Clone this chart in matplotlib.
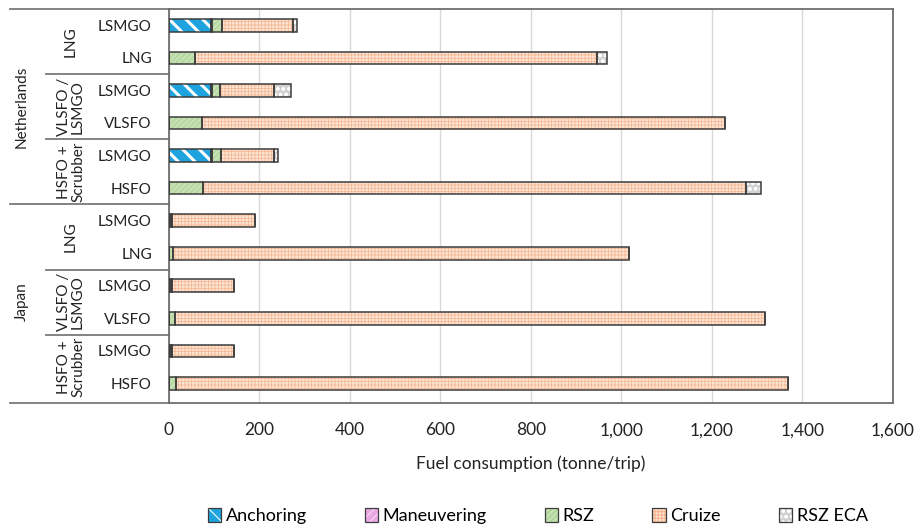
import matplotlib
matplotlib.use('Agg')
import matplotlib.pyplot as plt
import matplotlib.transforms as mtransforms
from matplotlib.patches import Patch
from matplotlib.legend_handler import HandlerTuple
import numpy as np

plt.rcParams.update({'font.family': 'Lato', 'hatch.linewidth': 0.8})

# rows from top to bottom: country / fuel system / fuel
countries = ['Netherlands', 'Japan']
systems = ['LNG', 'VLSFO /\nLSMGO', 'HSFO +\nScrubber']
row_labels = ['LSMGO', 'LNG', 'LSMGO', 'VLSFO', 'LSMGO', 'HSFO',
              'LSMGO', 'LNG', 'LSMGO', 'VLSFO', 'LSMGO', 'HSFO']

# fuel consumption per phase (tonne/trip)
anchoring   = [93, 0, 93, 0, 93, 0, 0, 0, 0, 0, 0, 0]
maneuvering = [2, 0, 2, 0, 2, 0, 5, 0, 5, 0, 5, 0]
rsz         = [22, 58, 18, 73, 20, 77, 3, 10, 3, 14, 3, 16]
cruize      = [158, 888, 119, 1155, 117, 1199, 182, 1006, 137, 1303, 137, 1353]
rsz_eca     = [9, 23, 38, 0, 9, 32, 0, 0, 0, 0, 0, 0]

phases = ['Anchoring', 'Maneuvering', 'RSZ', 'Cruize', 'RSZ ECA']
series = [anchoring, maneuvering, rsz, cruize, rsz_eca]
# face colour, hatch, hatch colour, hatch width
styles = [('#1EA3DF', '\\\\', 'white', 2.2),
          ('#E9A6E3', '////', '#F6D8F3', 0.8),
          ('#C5E0B3', '//////', '#A8D08D', 0.6),
          ('#FCE3D3', '+++++', '#F6B58E', 0.5),
          ('#D2D2D2', 'ooo', 'white', 0.8)]
EDGE = '#3C3C3C'


def hatched(patch, hlw):
    if hasattr(patch, 'set_hatch_linewidth'):
        patch.set_hatch_linewidth(hlw)
    return patch


fig = plt.figure(figsize=(9.19, 5.30), dpi=100)
ax = fig.add_axes([0.1834, 0.2396, 0.7883, 0.7434])

y = np.arange(len(row_labels))
h = 0.39
left = np.zeros(len(row_labels))
for vals, (fc, hatch, hc, hlw) in zip(series, styles):
    vals = np.array(vals, dtype=float)
    bars = ax.barh(y, vals, h, left=left, color=fc, hatch=hatch,
                   edgecolor=hc, linewidth=0, zorder=2)
    for b in bars:
        hatched(b, hlw)
    ax.barh(y, vals, h, left=left, fill=False, edgecolor=EDGE,
            linewidth=1.1, zorder=3)
    left += vals

ax.set_xlim(0, 1600)
ax.set_ylim(11.6, -0.5)
ax.set_xticks(np.arange(0, 1601, 200))
ax.set_xticklabels([f'{v:,}' for v in range(0, 1601, 200)])
ax.tick_params(axis='x', length=0, pad=14, labelsize=12.5, colors='#222222')
ax.set_yticks(y)
ax.set_yticklabels(row_labels)
ax.tick_params(axis='y', length=0, pad=12, labelsize=11, colors='#222222')
ax.grid(axis='x', color='#D9D9D9', linewidth=1, zorder=0)
ax.set_axisbelow(True)
for s in ax.spines.values():
    s.set_color('#6E6E6E')
    s.set_linewidth(1.3)
ax.set_xlabel('Fuel consumption (tonne/trip)', fontsize=12.5, labelpad=12,
              color='#222222')

# grouped category labels to the left of the axis
tr = mtransforms.blended_transform_factory(fig.transFigure, ax.transData)
x0, x1, x_axis = 10 / 919, 46 / 919, 0.1834
lc = '#7A7A7A'
for yy in [-0.5, 5.5, 11.6]:
    ax.plot([x0, x_axis], [yy, yy], transform=tr, color=lc, lw=1.3,
            clip_on=False)
for yy in [1.5, 3.5, 7.5, 9.5]:
    ax.plot([x1, x_axis], [yy, yy], transform=tr, color=lc, lw=1.3,
            clip_on=False)
for i, c in enumerate(countries):
    ax.text(22 / 919, i * 6 + 2.5, c, transform=tr, rotation=90,
            ha='center', va='center', fontsize=11, color='#222222')
    for j, s in enumerate(systems):
        ax.text(71 / 919, i * 6 + j * 2 + 0.5, s, transform=tr, rotation=90,
                ha='center', va='center', fontsize=11, color='#222222',
                linespacing=1.0)

# legend keys: hatched fill with a dark outline on top
handles = []
for fc, hatch, hc, hlw in styles:
    fill = hatched(Patch(facecolor=fc, hatch=hatch, edgecolor=hc,
                         linewidth=0), hlw)
    outline = Patch(fill=False, edgecolor=EDGE, linewidth=0.9)
    handles.append((fill, outline))
fig.legend(handles, phases, loc='center', ncol=5, frameon=False,
           handler_map={tuple: HandlerTuple(ndivide=1, pad=0)},
           bbox_to_anchor=(0.585, 0.026), fontsize=13, handlelength=0.75,
           handleheight=0.75, handletextpad=0.25, columnspacing=3.2)

fig.savefig('out.png', dpi=100)
